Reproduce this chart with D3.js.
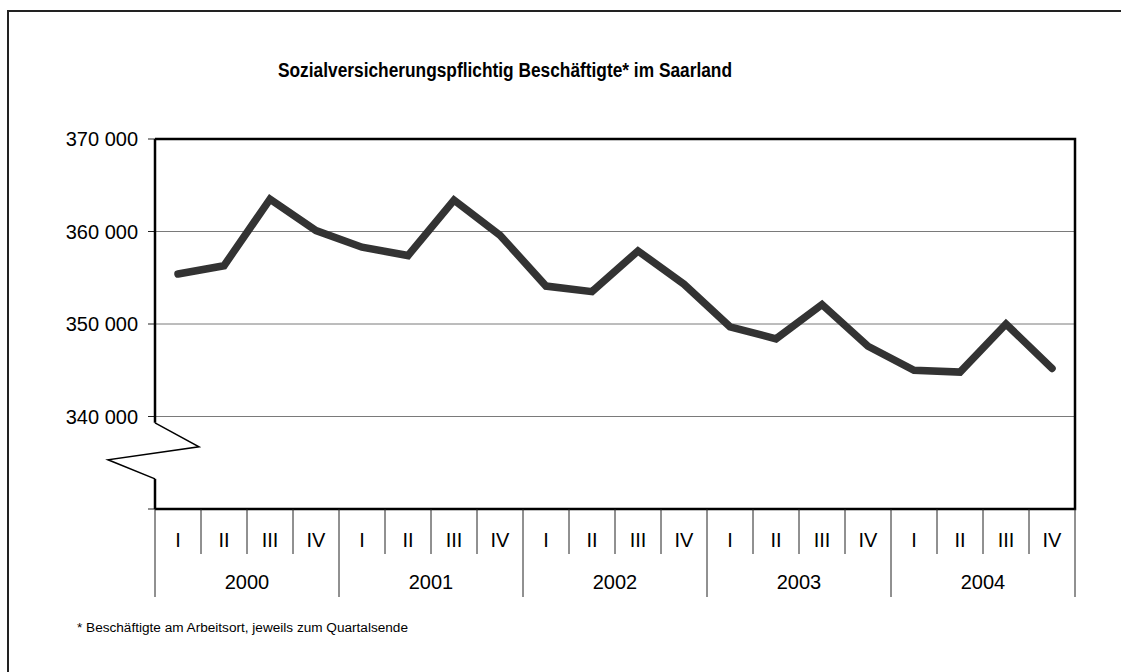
<!DOCTYPE html>
<html>
<head>
<meta charset="utf-8">
<style>
html, body { margin: 0; background: #fff; overflow: hidden; }
svg { display: block; font-family: "Liberation Sans", Arial, sans-serif; }
.grid line { stroke: #7a7a7a; stroke-width: 1; }
.frame { fill: none; stroke: #222; stroke-width: 2; }
</style>
<title>Sozialversicherungspflichtig Beschäftigte</title>
</head>
<body>
<svg width="1121" height="672"></svg>
<script src="https://d3js.org/d3.v7.min.js"></script>
<script>
// data
var years = ["2000", "2001", "2002", "2003", "2004"];
var quarters = ["I", "II", "III", "IV"];
var values = [355400, 356300, 363500, 360100, 358300, 357400, 363400, 359600,
              354100, 353500, 357900, 354300, 349700, 348400, 352100, 347600,
              345000, 344800, 350000, 345200];
var yTicks = [340000, 350000, 360000, 370000];
var title = "Sozialversicherungspflichtig Beschäftigte* im Saarland";
var footnote = "* Beschäftigte am Arbeitsort, jeweils zum Quartalsende";

var svg = d3.select("svg");

var plotL = 155, plotR = 1075, plotT = 139, plotB = 509;

var cats = [];
years.forEach(function(yr) {
    quarters.forEach(function(q) { cats.push(yr + "-" + q); });
});

var x = d3.scaleBand().domain(cats).range([plotL, plotR]).padding(0);
var xYear = d3.scaleBand().domain(years).range([plotL, plotR]).padding(0);
var y = d3.scaleLinear().domain([330000, 370000]).range([plotB, plotT]);

// outer frame: only its top and left edges fall inside the picture
svg.append("path").attr("class", "frame")
    .attr("d", "M8,680V11H1130");

// title
svg.append("text")
    .attr("x", 278).attr("y", 77)
    .attr("font-weight", "bold")
    .attr("font-size", 19.5)
    .attr("textLength", 454)
    .attr("lengthAdjust", "spacingAndGlyphs")
    .text(title);

// gridlines
svg.append("g").attr("class", "grid")
  .selectAll("line")
    .data(yTicks.filter(function(d) { return d < 370000; }))
  .enter().append("line")
    .attr("x1", plotL).attr("x2", plotR)
    .attr("y1", function(d) { return y(d); })
    .attr("y2", function(d) { return y(d); });

// y axis labels and ticks
var fmt = function(d) { return d3.format(",")(d).replace(/,/g, " "); };
var yAxis = svg.append("g");
yAxis.selectAll("line")
    .data(yTicks.concat([330000]))
  .enter().append("line")
    .attr("x1", plotL - 7).attr("x2", plotL)
    .attr("y1", function(d) { return y(d); })
    .attr("y2", function(d) { return y(d); })
    .attr("stroke", "#222").attr("stroke-width", 1);
yAxis.selectAll("text")
    .data(yTicks)
  .enter().append("text")
    .attr("x", 138)
    .attr("y", function(d) { return y(d); })
    .attr("dy", "0.35em")
    .attr("text-anchor", "end")
    .attr("font-size", 20)
    .text(fmt);

// plot border (top, right, bottom)
svg.append("path")
    .attr("d", "M" + plotL + "," + plotT + "H" + plotR + "V" + plotB + "H" + plotL)
    .attr("fill", "none").attr("stroke", "#000").attr("stroke-width", 2.5);

// left axis with break
var b0 = 339320, b1 = 336730, b2 = 335320, b3 = 333260;
svg.append("line")
    .attr("x1", plotL).attr("x2", plotL)
    .attr("y1", plotT).attr("y2", y(b0))
    .attr("stroke", "#000").attr("stroke-width", 2.5);
svg.append("line")
    .attr("x1", plotL).attr("x2", plotL)
    .attr("y1", y(b3)).attr("y2", plotB)
    .attr("stroke", "#000").attr("stroke-width", 2.5);
svg.append("path")
    .attr("d", "M" + plotL + "," + y(b0) + "L" + (plotL + 44) + "," + y(b1) +
               "L" + (plotL - 47) + "," + y(b2) + "L" + plotL + "," + y(b3))
    .attr("fill", "none").attr("stroke", "#000").attr("stroke-width", 1.5);

// category axis: quarter separators
var qAxis = svg.append("g");
qAxis.selectAll("line")
    .data(cats)
  .enter().append("line")
    .attr("x1", function(d) { return x(d); })
    .attr("x2", function(d) { return x(d); })
    .attr("y1", plotB)
    .attr("y2", function(d) { return d.slice(-2) === "-I" ? 597 : 554; })
    .attr("stroke", "#222").attr("stroke-width", 1);
qAxis.append("line")
    .attr("x1", plotR).attr("x2", plotR).attr("y1", plotB).attr("y2", 597)
    .attr("stroke", "#222").attr("stroke-width", 1);
qAxis.selectAll("text")
    .data(cats)
  .enter().append("text")
    .attr("x", function(d) { return x(d) + x.bandwidth() / 2; })
    .attr("y", 540)
    .attr("dy", "0.35em")
    .attr("text-anchor", "middle")
    .attr("font-size", 20)
    .text(function(d) { return d.split("-")[1]; });

svg.append("g").selectAll("text")
    .data(years)
  .enter().append("text")
    .attr("x", function(d) { return xYear(d) + xYear.bandwidth() / 2; })
    .attr("y", 582)
    .attr("dy", "0.35em")
    .attr("text-anchor", "middle")
    .attr("font-size", 20)
    .text(function(d) { return d; });

// series line
var line = d3.line()
    .x(function(d, i) { return x(cats[i]) + x.bandwidth() / 2; })
    .y(function(d) { return y(d); });

svg.append("path")
    .datum(values)
    .attr("d", line)
    .attr("fill", "none")
    .attr("stroke", "#333")
    .attr("stroke-width", 7.5)
    .attr("stroke-linejoin", "miter")
    .attr("stroke-linecap", "round");

// footnote
svg.append("text")
    .attr("x", 77).attr("y", 632)
    .attr("font-size", 12.5)
    .attr("textLength", 331)
    .attr("lengthAdjust", "spacingAndGlyphs")
    .text(footnote);
</script>
</body>
</html>
